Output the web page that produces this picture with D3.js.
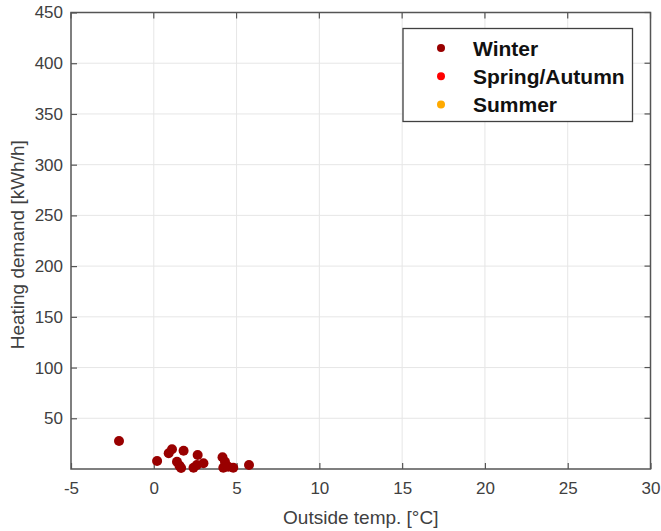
<!DOCTYPE html>
<html>
<head>
<meta charset="utf-8">
<script src="https://cdn.jsdelivr.net/npm/d3@7"></script>
<style>
  html, body { margin: 0; padding: 0; background: #fff; }
  svg { display: block; font-family: "Liberation Sans", Arial, Helvetica, sans-serif; }
</style>
</head>
<body>
<svg id="chart" width="661" height="531"></svg>
<script>
// Outside temperature [°C] and heating demand [kWh/h], winter observations
const winterTemp   = [-2.1, 0.2, 0.9, 1.1, 1.8, 1.4, 1.55, 1.65, 2.65, 2.4, 2.6, 3.0, 4.15, 4.3, 4.2, 4.5, 4.8, 5.75];
const winterDemand = [27.6, 7.9, 15.5, 19.4, 18.0, 7.2, 3.3, 1.0, 13.8, 1.2, 4.0, 5.6, 11.5, 7.2, 1.2, 2.3, 1.2, 4.0];

const seasons = ["Winter", "Spring/Autumn", "Summer"];
const seasonColors = ["#990000", "#ff0000", "#ffaa00"];

const xTicks = [-5, 0, 5, 10, 15, 20, 25, 30];
const yTicks = [50, 100, 150, 200, 250, 300, 350, 400, 450];

const svg = d3.select("#chart");
const plotL = 71, plotR = 650.5, plotT = 12.5, plotB = 469;

const x = d3.scaleLinear().domain([-5, 30]).range([plotL, plotR]);
const y = d3.scaleLinear().domain([0, 450]).range([plotB, plotT]);

// grid
const grid = svg.append("g").attr("stroke", "#e6e6e6").attr("stroke-width", 1);
grid.selectAll("line.gx").data(xTicks.slice(1, -1)).join("line")
  .attr("x1", d => x(d)).attr("x2", d => x(d)).attr("y1", plotT).attr("y2", plotB);
grid.selectAll("line.gy").data(yTicks.slice(0, -1)).join("line")
  .attr("y1", d => y(d)).attr("y2", d => y(d)).attr("x1", plotL).attr("x2", plotR);

// axes (plain hyphen for negative labels)
const axColor = "#555";
const fmt = d => String(d);
const xAxis = svg.append("g").attr("transform", `translate(0,${plotB})`)
  .call(d3.axisBottom(x).tickValues(xTicks).tickFormat(fmt).tickSizeInner(-6).tickSizeOuter(0).tickPadding(14));
const yAxis = svg.append("g").attr("transform", `translate(${plotL},0)`)
  .call(d3.axisLeft(y).tickValues(yTicks).tickFormat(fmt).tickSizeInner(-6).tickSizeOuter(0).tickPadding(14));
[xAxis, yAxis].forEach(a => {
  a.select(".domain").remove();
  a.selectAll(".tick line").attr("stroke", axColor).attr("stroke-width", 1.2);
  a.selectAll(".tick text").attr("fill", "#404040").attr("font-size", 17)
    .attr("font-family", "Liberation Sans, Arial, sans-serif");
});
xAxis.selectAll(".tick text").attr("dy", "0.71em").attr("y", 13);
yAxis.selectAll(".tick text").attr("x", -8);

// mirrored ticks on top and right
svg.append("g").selectAll("line").data(xTicks).join("line")
  .attr("x1", d => x(d)).attr("x2", d => x(d)).attr("y1", plotT).attr("y2", plotT + 6)
  .attr("stroke", axColor).attr("stroke-width", 1.2);
svg.append("g").selectAll("line").data(yTicks).join("line")
  .attr("y1", d => y(d)).attr("y2", d => y(d)).attr("x1", plotR).attr("x2", plotR - 6)
  .attr("stroke", axColor).attr("stroke-width", 1.2);

// box
svg.append("rect").attr("x", plotL).attr("y", plotT)
  .attr("width", plotR - plotL).attr("height", plotB - plotT)
  .attr("fill", "none").attr("stroke", axColor).attr("stroke-width", 1.5);

// points
svg.append("g").selectAll("circle")
  .data(d3.zip(winterTemp, winterDemand)).join("circle")
  .attr("cx", d => x(d[0])).attr("cy", d => y(d[1])).attr("r", 5)
  .attr("fill", seasonColors[0]);

// axis labels
svg.append("text").attr("x", (plotL + plotR) / 2).attr("y", 524)
  .attr("text-anchor", "middle").attr("font-size", 19).attr("fill", "#404040")
  .text("Outside temp. [°C]");
svg.append("text")
  .attr("transform", `translate(24,${(plotT + plotB) / 2 + 4}) rotate(-90)`)
  .attr("text-anchor", "middle").attr("font-size", 19).attr("fill", "#404040")
  .text("Heating demand [kWh/h]");

// legend
const lg = svg.append("g");
lg.append("rect").attr("x", 403).attr("y", 28.5).attr("width", 229.5).attr("height", 93)
  .attr("fill", "#fff").attr("stroke", "#404040").attr("stroke-width", 1.3);
const rows = lg.selectAll("g.row").data(seasons).join("g")
  .attr("transform", (d, i) => `translate(0,${48 + i * 28.3})`);
rows.append("circle").attr("cx", 441).attr("cy", 0).attr("r", 4)
  .attr("fill", (d, i) => seasonColors[i]);
rows.append("text").attr("x", 473).attr("y", 0).attr("dy", "0.36em")
  .attr("font-size", 21).attr("font-weight", "bold").attr("fill", "#111")
  .text(d => d);
</script>
</body>
</html>
